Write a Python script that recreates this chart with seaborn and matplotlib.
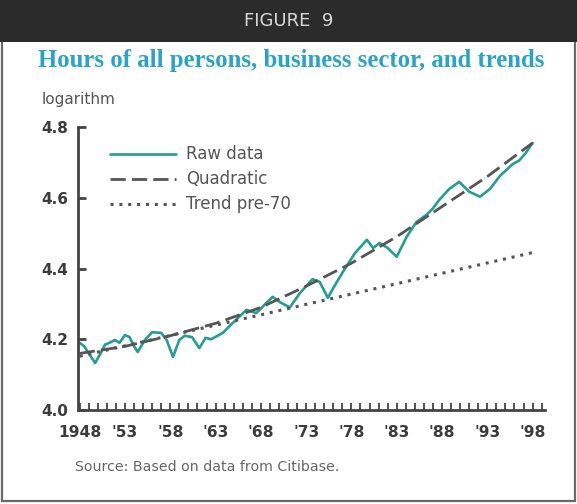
import matplotlib
matplotlib.use("Agg")
import matplotlib.pyplot as plt
import matplotlib.ticker as mticker
from matplotlib.patches import Rectangle
import pandas as pd
import seaborn as sns

# raw series (log of hours)
raw_years = [1948.0, 1948.5, 1949.0, 1949.7, 1950.3, 1950.8, 1951.3, 1951.9, 1952.4,
             1953.0, 1953.5, 1954.0, 1954.4, 1955.2, 1956.0, 1957.0, 1957.6, 1958.3,
             1959.0, 1959.6, 1960.4, 1961.2, 1961.9, 1962.5, 1963.8, 1964.9, 1966.4,
             1967.5, 1968.5, 1969.3, 1970.1, 1971.2, 1972.3, 1973.7, 1974.5, 1975.4,
             1976.0, 1977.0, 1978.4, 1979.7, 1980.4, 1981.1, 1982.0, 1983.0, 1984.1,
             1985.2, 1986.3, 1987.0, 1987.7, 1988.8, 1989.9, 1991.0, 1992.2, 1993.3,
             1994.4, 1995.8, 1996.5, 1997.2, 1998.0]
raw_vals = [4.19, 4.18, 4.16, 4.133, 4.16, 4.185, 4.19, 4.198, 4.19,
            4.212, 4.206, 4.18, 4.164, 4.198, 4.22, 4.218, 4.198, 4.15,
            4.198, 4.21, 4.206, 4.175, 4.204, 4.200, 4.218, 4.246, 4.283,
            4.274, 4.30, 4.32, 4.305, 4.29, 4.33, 4.370, 4.362, 4.317,
            4.345, 4.388, 4.444, 4.481, 4.458, 4.472, 4.458, 4.433, 4.49,
            4.532, 4.552, 4.57, 4.594, 4.625, 4.645, 4.617, 4.603, 4.625,
            4.662, 4.695, 4.705, 4.725, 4.755]

# quadratic trend, read every 5 years
quad_years = [1948, 1953, 1958, 1963, 1968, 1973, 1978, 1983, 1988, 1993, 1998]
quad_vals = [4.16, 4.18, 4.21, 4.245, 4.29, 4.35, 4.415, 4.49, 4.575, 4.66, 4.755]

# linear trend fitted before 1970
lin_years = [1948, 1998]
lin_vals = [4.152, 4.445]

tick_years = [1948, 1953, 1958, 1963, 1968, 1973, 1978, 1983, 1988, 1993, 1998]
tick_labels = ["1948", "'53", "'58", "'63", "'68", "'73", "'78", "'83", "'88", "'93", "'98"]
y_ticks = [4.0, 4.2, 4.4, 4.6, 4.8]

sns.set_style("white")
plt.rcParams["font.family"] = ["DejaVu Sans"]

teal = "#239e8f"
grey = "#555555"
axis_col = "#444444"

fig = plt.figure(figsize=(5.77, 5.04), dpi=100)

# frame + dark header band
fig.patches.append(Rectangle((0.004, 0.006), 0.992, 0.99, transform=fig.transFigure,
                             fill=False, edgecolor="#6a6a6a", linewidth=1.6))
fig.patches.append(Rectangle((0.0, 0.917), 1.0, 0.083, transform=fig.transFigure,
                             facecolor="#2b2b2b", edgecolor="none"))
fig.text(0.5, 0.958, "FIGURE  9", ha="center", va="center", color="#d8d8d8",
         fontsize=13)
fig.text(0.505, 0.880, "Hours of all persons, business sector, and trends",
         ha="center", va="center", color="#2aa4c6", fontsize=17.8, fontweight="bold",
         family=["Liberation Serif", "DejaVu Serif"])

ax = fig.add_axes([0.135, 0.1865, 0.81, 0.5615])

raw = pd.DataFrame({"year": raw_years, "value": raw_vals})
quad = pd.DataFrame({"year": quad_years, "value": quad_vals})
lin = pd.DataFrame({"year": lin_years, "value": lin_vals})

sns.lineplot(data=raw, x="year", y="value", ax=ax, color=teal, linewidth=1.9,
             label="Raw data")
sns.lineplot(data=quad, x="year", y="value", ax=ax, color=grey, linewidth=2.0,
             label="Quadratic")
ax.lines[-1].set_dashes([5.5, 2.2])
sns.lineplot(data=lin, x="year", y="value", ax=ax, color=grey, linewidth=2.2,
             label="Trend pre-70")
ax.lines[-1].set_dashes([1.0, 1.9])

ax.set_xlim(1947.8, 1999.4)
ax.set_ylim(4.0, 4.8)
ax.set_xticks(tick_years)
ax.set_xticklabels(tick_labels)
ax.xaxis.set_minor_locator(mticker.MultipleLocator(1))
ax.set_yticks(y_ticks)
ax.yaxis.set_major_formatter(mticker.FormatStrFormatter("%.1f"))
ax.set_xlabel("")
ax.set_ylabel("")

for side in ["top", "right"]:
    ax.spines[side].set_visible(False)
for side in ["left", "bottom"]:
    ax.spines[side].set_color(axis_col)
    ax.spines[side].set_linewidth(2.0)

ax.tick_params(axis="y", left=True, direction="in", length=6, width=2, color=axis_col,
               pad=7, labelsize=11, labelcolor="#3c3c3c")
ax.tick_params(axis="x", which="both", bottom=True, direction="in", length=5, width=1.3,
               color=axis_col, pad=11, labelsize=11.2, labelcolor="#3c3c3c")
for lbl in ax.get_yticklabels() + ax.get_xticklabels():
    lbl.set_fontweight("bold")

ax.legend(loc="upper left", bbox_to_anchor=(0.068, 0.935), frameon=False,
          borderpad=0, borderaxespad=0, handlelength=4.0, handletextpad=0.6,
          labelspacing=0.42, fontsize=12, labelcolor="#555555")

fig.text(0.072, 0.802, "logarithm", ha="left", va="center", color="#555555", fontsize=11)
fig.text(0.13, 0.073, "Source: Based on data from Citibase.", ha="left", va="center",
         color="#666666", fontsize=10.2)

fig.savefig("out.png", dpi=100)
